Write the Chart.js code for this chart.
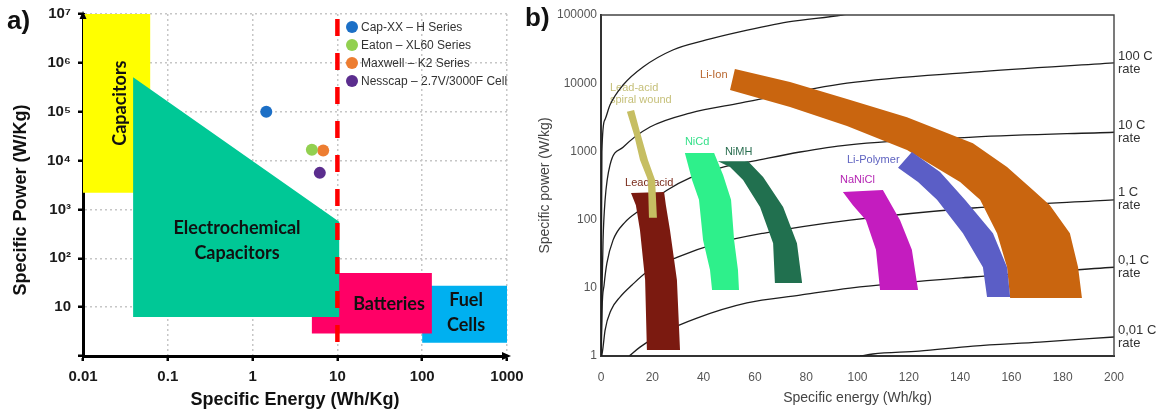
<!DOCTYPE html>
<html>
<head>
<meta charset="utf-8">
<title>Ragone plots</title>
<script src="https://cdn.jsdelivr.net/npm/chart.js@4.4.1/dist/chart.umd.min.js"></script>
<style>
  html, body { margin: 0; padding: 0; background: #fff; }
  #wrap { position: relative; width: 1159px; height: 414px; overflow: hidden; }
  #ragoneA { position: absolute; left: 0; top: 0; }
  #ragoneB { position: absolute; left: 520px; top: 0; }
</style>
</head>
<body>
<div id="wrap">
  <canvas id="ragoneA" width="540" height="414"></canvas>
  <canvas id="ragoneB" width="639" height="414"></canvas>
</div>
<script>
// ---------- Panel a) : storage technologies on log-log axes ----------
const energyTicksA = [0.01, 0.1, 1, 10, 100, 1000];
const energyTickLabelsA = ['0.01', '0.1', '1', '10', '100', '1000'];
const powerTicksA = [1, 10, 100, 1e3, 1e4, 1e5, 1e6, 1e7];
const powerTickLabelsA = ['', '10', '10²', '10³', '10⁴', '10⁵', '10⁶', '10⁷'];

// region outlines as [specific energy (Wh/kg), specific power (W/kg)]
const capacitorsRegion = [[0.01, 1e7], [0.062, 1e7], [0.062, 2200], [0.01, 2200]];
const electrochemCapRegion = [[0.039, 5.1e5], [10.5, 560], [10.5, 6.3], [0.039, 6.3]];
const batteriesRegion = [[5, 50], [130, 50], [130, 2.9], [5, 2.9]];
const fuelCellsRegion = [[100, 27.5], [1000, 27.5], [1000, 1.86], [100, 1.86]];
const energyLimitLine = [[10, 1e7], [10, 1.6]];

// commercial supercapacitor cells
const deviceNames = ['Cap-XX – H Series', 'Eaton – XL60 Series', 'Maxwell – K2 Series', 'Nesscap – 2.7V/3000F Cell'];
const deviceEnergy = [1.45, 5.0, 6.8, 6.2];
const devicePower = [1e5, 16600, 16000, 5600];
const deviceColors = ['#1c6fc6', '#92d050', '#ed7d31', '#5b2d8e'];

// ---------- Panel b) : battery chemistries, linear energy / log power ----------
const energyTicksB = [0, 20, 40, 60, 80, 100, 120, 140, 160, 180, 200];
const powerTicksB = [1, 10, 100, 1000, 10000, 100000];

// constant discharge-rate curves [Wh/kg, W/kg]
const rateFast = [[0.05, 1], [0.15, 30], [0.35, 1000], [1.5, 2900], [3.5, 4800], [8.6, 9400], [16.4, 17300], [28, 30700], [41, 43000], [54, 56500], [73, 79000], [94, 100000], [110, 130000]];
const rate100C = [[0.1, 1.5], [0.4, 9.3], [0.8, 50], [1.6, 195], [3.5, 630], [8.6, 1150], [19.1, 2280], [34.7, 3650], [54.2, 5100], [95.9, 10000], [145, 14500], [200, 19800]];
const rate10C = [[0.15, 1.3], [0.4, 4.7], [1.2, 11], [2.3, 23], [4.7, 50], [9.4, 92], [15.2, 138], [25.7, 270], [34.7, 410], [47.6, 590], [59.3, 720], [77.6, 980], [95.9, 1240], [145, 1620], [200, 1910]];
const rate1C = [[0.3, 1], [0.8, 1.35], [1.6, 2.4], [3.9, 4.7], [7.4, 7.3], [12.1, 11], [17.9, 17], [29.6, 28], [45.2, 45], [63.2, 63], [97.1, 98], [145, 148], [200, 195]];
const rate01C = [[11, 1], [15.2, 1.35], [24.2, 2.2], [37.4, 3.6], [56.9, 6.0], [77.6, 7.8], [97.1, 9.9], [145, 14.4], [200, 20]];
const rate001C = [[101, 1], [106, 1.07], [124, 1.18], [145, 1.4], [171, 1.6], [200, 1.9]];
const rateNames = ['100 C', '10 C', '1 C', '0,1 C', '0,01 C'];

// chemistry bands [Wh/kg, W/kg]
const leadAcidBand = [[11.7, 245], [24.6, 253], [25.3, 163], [26.9, 70], [29.6, 13], [30.8, 1.22], [17.9, 1.22], [17.2, 13], [15.2, 70], [13.6, 163]];
const spiralWoundBand = [[10.1, 3800], [12.9, 1740], [15.2, 745], [18.3, 380], [18.7, 106], [21.8, 106], [21.1, 380], [18.3, 745], [15.2, 1920], [12.9, 4050]];
const niCdBand = [[32.7, 950], [44.1, 950], [47.6, 450], [50.7, 195], [51.9, 50], [53.4, 18.2], [53.8, 9.3], [43.3, 9.3], [42.5, 18.2], [39.8, 50], [38.2, 195], [35.5, 380]];
const niMHBand = [[45.6, 720], [57.3, 720], [63.2, 420], [71.0, 153], [76.4, 45], [78.4, 11.8], [67.8, 11.8], [67.1, 45], [62.0, 153], [55.4, 380], [50.3, 590]];
const naNiClBand = [[94.3, 253], [109.9, 272], [116.6, 98], [121.2, 36], [123.6, 9.3], [108.8, 9.3], [107.2, 36], [103.3, 98], [98.2, 163]];
const liPolymerBand = [[121.2, 980], [132.2, 500], [141.9, 195], [152.8, 63], [158.3, 20], [159.5, 7.3], [150.5, 7.3], [148.9, 20], [141.1, 63], [131.0, 195], [123.6, 355], [115.8, 575]];
const liIonBand = [[52.2, 16200], [73.7, 10400], [95.9, 5850], [119.3, 3170], [145.0, 1320], [158.3, 590], [168.4, 272], [175.0, 163], [182.8, 63], [186.0, 20], [187.5, 7.1], [159.5, 7.1], [158.3, 20], [154.4, 63], [147.8, 195], [140.0, 355], [132.2, 535], [119.3, 1050], [95.9, 2350], [73.7, 4460], [50.3, 7960]];

// ---------- helpers ----------
Chart.defaults.font.family = '"Liberation Sans", Arial, sans-serif';
const pairs = list => list.map(([x, y]) => ({ x, y }));

function area(label, outline, color, order) {
  return {
    label, data: pairs(outline), fill: 'shape', backgroundColor: color,
    borderColor: 'rgba(0,0,0,0)', borderWidth: 0, pointRadius: 0, pointHoverRadius: 0,
    tension: 0, order
  };
}

function rateCurve(label, points) {
  return {
    label, rateLabel: label, data: pairs(points), fill: false, borderColor: '#1e1e1e',
    borderWidth: 1.3, pointRadius: 0, pointHoverRadius: 0,
    cubicInterpolationMode: 'monotone', order: 10
  };
}

function fixedTicks(values) {
  return scale => { scale.ticks = values.map(v => ({ value: v })); };
}

function fixedBox(size) {
  return scale => {
    if (scale.isHorizontal()) scale.height = size; else scale.width = size;
    scale.paddingLeft = scale.paddingRight = scale.paddingTop = scale.paddingBottom = 0;
  };
}

// ---------- panel a) annotations ----------
const regionLabelsA = [
  { lines: ['Capacitors'], x: 0.0273, y: 1.5e5, rotate: true },
  { lines: ['Electrochemical', 'Capacitors'], x: 0.655, y: 233 },
  { lines: ['Batteries'], x: 40.6, y: 11.7 },
  { lines: ['Fuel', 'Cells'], x: 329, y: 7.7 }
];

const decorA = {
  id: 'decorA',
  afterDatasetsDraw(chart) {
    const { ctx, scales: { x, y } } = chart;
    ctx.save();
    ctx.fillStyle = '#111';
    ctx.font = 'bold 18px Lato, sans-serif';
    ctx.textAlign = 'center';
    ctx.textBaseline = 'middle';
    for (const l of regionLabelsA) {
      const px = x.getPixelForValue(l.x), py = y.getPixelForValue(l.y);
      if (l.rotate) {
        ctx.save();
        ctx.translate(px, py);
        ctx.rotate(-Math.PI / 2);
        ctx.fillText(l.lines[0], 0, 0);
        ctx.restore();
      } else {
        l.lines.forEach((t, i) => ctx.fillText(t, px, py + (i - (l.lines.length - 1) / 2) * 25));
      }
    }
    // legend for the device markers
    ctx.font = '12px "Liberation Sans", Arial, sans-serif';
    ctx.textAlign = 'left';
    const entries = chart.data.datasets.filter(d => d.device);
    entries.forEach((d, i) => {
      const cy = 27 + i * 18;
      ctx.fillStyle = d.backgroundColor;
      ctx.beginPath();
      ctx.arc(352, cy, 6, 0, Math.PI * 2);
      ctx.fill();
      ctx.fillStyle = '#333';
      ctx.fillText(d.label, 361, cy + 1);
    });
    ctx.restore();
  },
  afterDraw(chart) {
    const { ctx, chartArea: a } = chart;
    ctx.save();
    ctx.fillStyle = '#000';
    // arrow tips on the axes
    ctx.beginPath();
    ctx.moveTo(a.left - 3.5, a.top + 5);
    ctx.lineTo(a.left, a.top - 3);
    ctx.lineTo(a.left + 3.5, a.top + 5);
    ctx.fill();
    ctx.beginPath();
    ctx.moveTo(a.right - 5, a.bottom - 4);
    ctx.lineTo(a.right + 4, a.bottom);
    ctx.lineTo(a.right - 5, a.bottom + 4);
    ctx.fill();
    // vertical axis title
    ctx.fillStyle = '#111';
    ctx.font = 'bold 18px "Liberation Sans", Arial, sans-serif';
    ctx.textAlign = 'center';
    ctx.textBaseline = 'middle';
    ctx.save();
    ctx.translate(21, 200);
    ctx.rotate(-Math.PI / 2);
    ctx.fillText('Specific Power (W/Kg)', 0, 0);
    ctx.restore();
    // panel letter
    ctx.font = 'bold 26px "Liberation Sans", Arial, sans-serif';
    ctx.textAlign = 'left';
    ctx.fillText('a)', 7, 22);
    ctx.restore();
  }
};

new Chart(document.getElementById('ragoneA'), {
  type: 'line',
  data: {
    datasets: [
      ...deviceNames.map((name, i) => ({
        label: name, device: true,
        data: [{ x: deviceEnergy[i], y: devicePower[i] }],
        showLine: false, pointRadius: 6, pointHoverRadius: 6, pointBorderWidth: 0,
        pointBackgroundColor: deviceColors[i], backgroundColor: deviceColors[i], order: 0
      })),
      {
        label: 'Energy limit', data: pairs(energyLimitLine), fill: false,
        borderColor: '#ff0000', borderWidth: 4.5, borderDash: [17, 17], borderDashOffset: -5,
        pointRadius: 0, order: 1
      },
      area('Electrochemical Capacitors', electrochemCapRegion, '#00c896', 2),
      area('Capacitors', capacitorsRegion, '#ffff00', 3),
      area('Batteries', batteriesRegion, '#ff0066', 3),
      area('Fuel Cells', fuelCellsRegion, '#00b0f0', 4)
    ]
  },
  options: {
    responsive: false, animation: false, devicePixelRatio: 1, events: [],
    layout: { padding: { left: 0, right: 33, top: 14, bottom: 0 } },
    plugins: { legend: { display: false }, tooltip: { enabled: false } },
    scales: {
      x: {
        type: 'logarithmic', min: 0.01, max: 1000,
        afterBuildTicks: fixedTicks(energyTicksA), afterFit: fixedBox(58),
        ticks: {
          callback: (v, i) => energyTickLabelsA[i], autoSkip: false, maxRotation: 0,
          font: { size: 15, weight: 'bold' }, color: '#1a1a1a', padding: 7
        },
        grid: { color: '#c6c6c6', lineWidth: 1.5, drawTicks: true, tickLength: 5, tickColor: '#000', tickWidth: 2.5, tickBorderDash: [] },
        border: { display: true, color: '#000', width: 3, dash: [2, 3] },
        title: { display: true, text: 'Specific Energy (Wh/Kg)', color: '#111', font: { size: 18, weight: 'bold' }, padding: { top: 0, bottom: 3 } }
      },
      y: {
        type: 'logarithmic', min: 1, max: 1e7,
        afterBuildTicks: fixedTicks(powerTicksA), afterFit: fixedBox(83),
        ticks: {
          callback: (v, i) => powerTickLabelsA[i], autoSkip: false,
          font: { size: 15, weight: 'bold' }, color: '#1a1a1a', padding: 7
        },
        grid: { color: '#c6c6c6', lineWidth: 1.5, drawTicks: true, tickLength: 5, tickColor: '#000', tickWidth: 2.5, tickBorderDash: [] },
        border: { display: true, color: '#000', width: 3, dash: [2, 3] }
      }
    }
  },
  plugins: [decorA]
});

// ---------- panel b) annotations ----------
const bandLabelsB = [
  { text: 'Li-Ion', x: 38.6, y: 13200, color: '#b8662e' },
  { text: 'Lead-acid', x: 3.5, y: 8500, color: '#c6c07a' },
  { text: 'spiral wound', x: 3.5, y: 5650, color: '#c6c07a' },
  { text: 'Lead-acid', x: 9.4, y: 345, color: '#7a2c1c' },
  { text: 'NiCd', x: 32.7, y: 1370, color: '#36e08a' },
  { text: 'NiMH', x: 48.3, y: 980, color: '#2a6e50' },
  { text: 'Li-Polymer', x: 95.9, y: 745, color: '#5e62c0' },
  { text: 'NaNiCl', x: 93.2, y: 380, color: '#b526b3' }
];

const decorB = {
  id: 'decorB',
  beforeDatasetsDraw(chart) {
    // chemistry names sit underneath the bands
    const { ctx, scales: { x, y } } = chart;
    ctx.save();
    ctx.font = '11px "Liberation Sans", Arial, sans-serif';
    ctx.textAlign = 'left';
    ctx.textBaseline = 'middle';
    for (const l of bandLabelsB) {
      ctx.fillStyle = l.color;
      ctx.fillText(l.text, x.getPixelForValue(l.x), y.getPixelForValue(l.y));
    }
    ctx.restore();
  },
  afterDatasetsDraw(chart) {
    const { ctx, chartArea: a } = chart;
    ctx.save();
    // frame on top and right
    ctx.strokeStyle = '#444';
    ctx.lineWidth = 1.4;
    ctx.beginPath();
    ctx.moveTo(a.left, a.top);
    ctx.lineTo(a.right, a.top);
    ctx.lineTo(a.right, a.bottom);
    ctx.stroke();
    // C-rate names at the right end of each curve
    ctx.font = '13px "Liberation Sans", Arial, sans-serif';
    ctx.textAlign = 'left';
    ctx.textBaseline = 'middle';
    ctx.fillStyle = '#333';
    chart.data.datasets.forEach((d, i) => {
      if (!d.rateLabel) return;
      const pts = chart.getDatasetMeta(i).data;
      const end = pts[pts.length - 1];
      ctx.fillText(d.rateLabel, a.right + 4, end.y - 7);
      ctx.fillText('rate', a.right + 4, end.y + 6);
    });
    ctx.restore();
  },
  afterDraw(chart) {
    const { ctx } = chart;
    ctx.save();
    ctx.fillStyle = '#111';
    ctx.font = 'bold 26px "Liberation Sans", Arial, sans-serif';
    ctx.textAlign = 'left';
    ctx.textBaseline = 'middle';
    ctx.fillText('b)', 5, 19);
    ctx.restore();
  }
};

const fastCurve = rateCurve('', rateFast);
delete fastCurve.rateLabel;

new Chart(document.getElementById('ragoneB'), {
  type: 'line',
  data: {
    datasets: [
      area('Lead-acid spiral wound', spiralWoundBand, '#c6be62', 0),
      area('Lead-acid', leadAcidBand, '#7b1a10', 1),
      area('NiCd', niCdBand, '#2ef08b', 1),
      area('NiMH', niMHBand, '#21704f', 1),
      area('NaNiCl', naNiClBand, '#c41cbf', 1),
      area('Li-Polymer', liPolymerBand, '#5b5ec6', 1),
      area('Li-Ion', liIonBand, '#c9650f', 1),
      fastCurve,
      rateCurve(rateNames[0], rate100C),
      rateCurve(rateNames[1], rate10C),
      rateCurve(rateNames[2], rate1C),
      rateCurve(rateNames[3], rate01C),
      rateCurve(rateNames[4], rate001C)
    ]
  },
  options: {
    responsive: false, animation: false, devicePixelRatio: 1, events: [],
    layout: { padding: { left: 0, right: 45, top: 15, bottom: 0 } },
    plugins: { legend: { display: false }, tooltip: { enabled: false } },
    scales: {
      x: {
        type: 'linear', min: 0, max: 200,
        afterBuildTicks: fixedTicks(energyTicksB), afterFit: fixedBox(58),
        ticks: { autoSkip: false, maxRotation: 0, font: { size: 12 }, color: '#555', padding: 14 },
        grid: { display: false, drawTicks: false },
        border: { display: true, color: '#333', width: 2 },
        title: { display: true, text: 'Specific energy (Wh/kg)', color: '#444', font: { size: 14 }, padding: { top: 0, bottom: 7 } }
      },
      y: {
        type: 'logarithmic', min: 1, max: 100000,
        afterBuildTicks: fixedTicks(powerTicksB), afterFit: fixedBox(81),
        ticks: { callback: v => String(v), autoSkip: false, font: { size: 12 }, color: '#555', padding: 4 },
        grid: { display: false, drawTicks: false },
        border: { display: true, color: '#333', width: 2 },
        title: { display: true, text: 'Specific power (W/kg)', color: '#444', font: { size: 14 }, padding: { top: 17, bottom: 0 } }
      }
    }
  },
  plugins: [decorB]
});
</script>
</body>
</html>
